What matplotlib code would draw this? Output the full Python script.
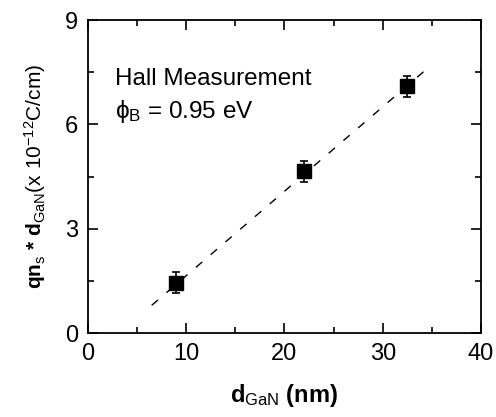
import matplotlib
matplotlib.use("Agg")
import matplotlib.pyplot as plt
from matplotlib.ticker import MultipleLocator

# measured points
d_gan = [9.0, 22.0, 32.5]
qns_d = [1.45, 4.65, 7.1]
err = [0.3, 0.3, 0.3]

# linear fit (dashed) end points
fit_x = [6.5, 34.5]
fit_y = [0.8, 7.6]

plt.rcParams["font.family"] = ["Liberation Sans", "DejaVu Sans"]
plt.rcParams["mathtext.fontset"] = "custom"
plt.rcParams["mathtext.rm"] = "Liberation Sans"
plt.rcParams["mathtext.it"] = "Liberation Sans"
plt.rcParams["mathtext.bf"] = "Liberation Sans:bold"

fig = plt.figure(figsize=(4.96, 4.17), dpi=100)
ax = fig.add_axes([0.177, 0.201, 0.793, 0.751])

ax.plot(fit_x, fit_y, ls=(0, (6, 8)), color="black", lw=1.0)
ax.errorbar(d_gan, qns_d, yerr=err, fmt="s", color="black", ms=10,
            capsize=3, elinewidth=1.2, capthick=1.2)

ax.set_xlim(0, 40)
ax.set_ylim(0, 9)
ax.xaxis.set_major_locator(MultipleLocator(10))
ax.xaxis.set_minor_locator(MultipleLocator(5))
ax.yaxis.set_major_locator(MultipleLocator(3))
ax.yaxis.set_minor_locator(MultipleLocator(1.5))
ax.tick_params(which="both", direction="in", top=True, right=True, labelsize=17, width=1.2)
ax.tick_params(which="major", length=7, pad=7)
ax.tick_params(which="minor", length=4)
for s in ax.spines.values():
    s.set_linewidth(1.3)

ax.set_xlabel(r"$\mathbf{d}_{\rm GaN}$ $\mathbf{(nm)}$", fontsize=17, labelpad=12)
ax.set_ylabel(r"$\mathbf{qn}_{\rm s}$ $\mathbf{*}$ $\mathbf{d}_{\rm GaN}$(x 10$^{-12}$C/cm)",
              fontsize=15, labelpad=12)

ax.text(2.75, 7.13, "Hall Measurement", fontsize=17.5)
ax.text(2.75, 6.18, r"$\phi_{\rm B}$ = 0.95 eV", fontsize=17.5)

fig.savefig("out.png", dpi=100)
